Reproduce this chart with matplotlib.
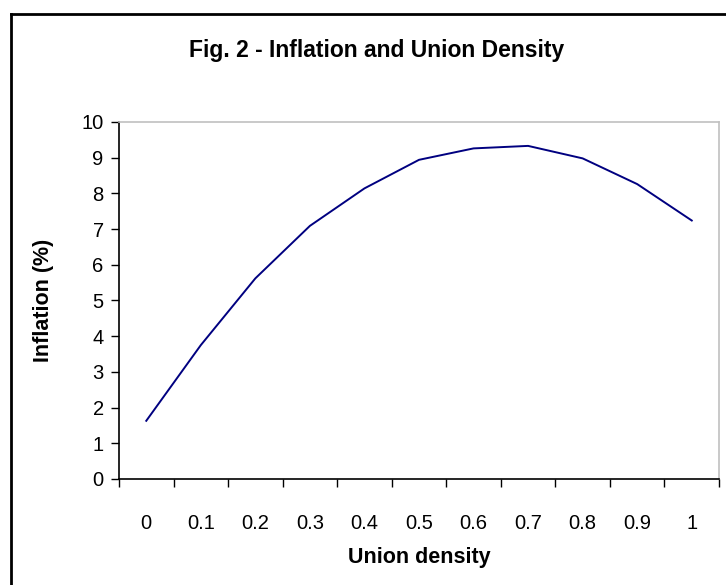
import numpy as np
import matplotlib
matplotlib.use("Agg")
import matplotlib.pyplot as plt
from matplotlib.lines import Line2D

plt.rcParams['font.family'] = ['Liberation Sans', 'DejaVu Sans']

# data
union_density = ['0', '0.1', '0.2', '0.3', '0.4', '0.5', '0.6', '0.7', '0.8', '0.9', '1']
inflation = [1.63, 3.75, 5.62, 7.09, 8.14, 8.94, 9.26, 9.33, 8.98, 8.26, 7.24]

fig = plt.figure(figsize=(7.26, 5.85), dpi=100)
ax = fig.add_axes([0.1639, 0.1812, 0.8265, 0.6103])

pos = np.arange(len(union_density))
ax.plot(pos, inflation, color='#000080', linewidth=1.4)

ax.set_xlim(-0.5, len(union_density) - 0.5)
ax.set_ylim(0, 10)
ax.set_yticks(np.arange(0, 11, 1))
ax.tick_params(axis='y', labelsize=14.5, direction='out', length=6, width=1, pad=5)

# category axis: ticks between categories, labels at centres
ax.set_xticks(np.arange(-0.5, len(union_density), 1))
ax.set_xticklabels([])
ax.set_xticks(pos, minor=True)
ax.set_xticklabels(union_density, minor=True)
ax.tick_params(axis='x', which='major', direction='out', length=6, width=1)
ax.tick_params(axis='x', which='minor', length=0, labelsize=14.5, pad=25)

for side in ['left', 'bottom']:
    ax.spines[side].set_color('black')
    ax.spines[side].set_linewidth(1.2)
for side in ['top', 'right']:
    ax.spines[side].set_color('#c0c0c0')
    ax.spines[side].set_linewidth(1.2)

ax.set_xlabel('Union density', fontsize=15.5, fontweight='bold', labelpad=10)
ax.set_ylabel('Inflation (%)', fontsize=15.5, fontweight='bold', labelpad=20)

fig.text(0.519, 0.913, 'Fig. 2 - Inflation and Union Density', ha='center', va='center',
         fontsize=16.5, fontweight='bold')

# outer chart frame (right and bottom edges fall outside the picture)
fig.add_artist(Line2D([0.0145, 0.0145], [0.0, 0.976], color='black', linewidth=2,
                      transform=fig.transFigure))
fig.add_artist(Line2D([0.0145, 1.0], [0.976, 0.976], color='black', linewidth=2,
                      transform=fig.transFigure))

fig.savefig('out.png', dpi=100)
